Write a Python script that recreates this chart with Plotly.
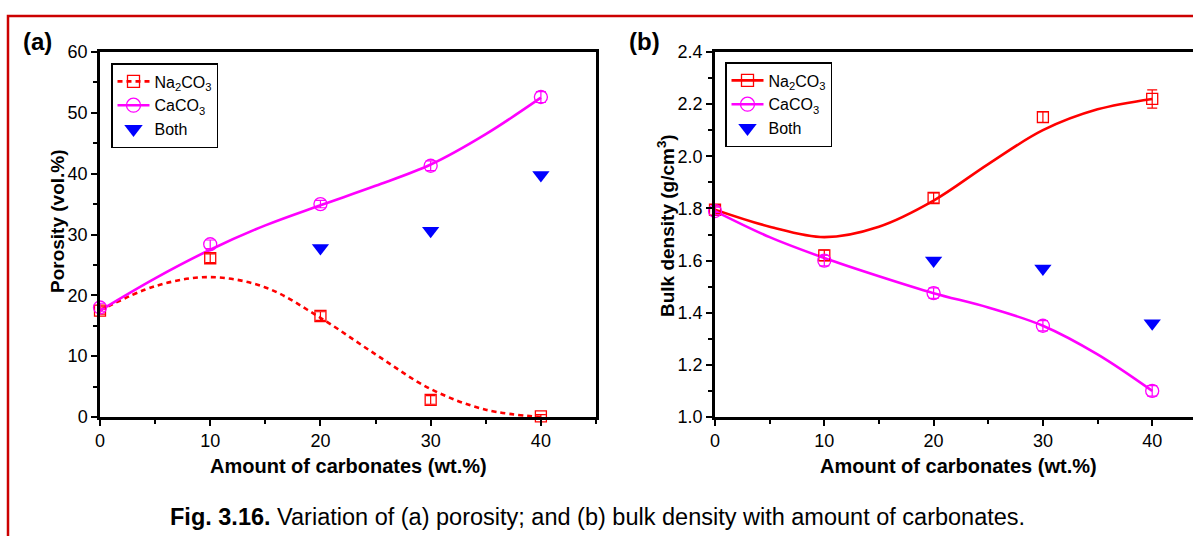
import plotly.graph_objects as go

W, H = 1193, 536

# ---------- data ----------
x_pts = [0, 10, 20, 30, 40]
x_both = [20, 30, 40]
x_fit = [0, 5, 10, 15, 20, 25, 30, 35, 40]

# (a) porosity (vol.%)
por_na = [17.5, 26.1, 16.6, 2.8, 0.1]
por_na_err = [0.6, 0.7, 0.7, 0.7, 0.3]
por_ca = [18.0, 28.4, 35.0, 41.3, 52.6]
por_ca_err = [0.7, 0.7, 0.6, 0.8, 0.9]
por_both = [27.8, 30.6, 39.8]
por_na_fit = [17.5, 21.5, 23.0, 21.3, 16.3, 10.3, 4.6, 1.2, 0.0]
por_ca_fit = [17.5, 22.8, 27.5, 31.5, 34.8, 38.0, 41.5, 46.5, 52.5]

# (b) bulk density (g/cm3)
bd_na = [1.795, 1.62, 1.84, 2.15, 2.22]
bd_na_err = [0.015, 0.02, 0.02, 0.02, 0.035]
bd_ca = [1.79, 1.60, 1.475, 1.35, 1.10]
bd_ca_err = [0.015, 0.02, 0.02, 0.02, 0.02]
bd_both = [1.60, 1.57, 1.36]
bd_na_fit = [1.795, 1.73, 1.69, 1.73, 1.83, 1.97, 2.10, 2.18, 2.22]
bd_ca_fit = [1.79, 1.69, 1.61, 1.54, 1.475, 1.42, 1.35, 1.24, 1.10]

x_ticks = [0, 10, 20, 30, 40]
ya_ticks = [0, 10, 20, 30, 40, 50, 60]
yb_ticks = [1.0, 1.2, 1.4, 1.6, 1.8, 2.0, 2.2, 2.4]

RED, MAG, BLUE = "#FF0000", "#FF00FF", "#0000FF"
FONT = "Arial, Liberation Sans, sans-serif"
NA_DASH_A = "5px,4px"

def px(x):
    return x / W

def py(y):
    return 1 - y / H

fig = go.Figure()

def add_panel(xa, ya, leg, na, na_err, ca, ca_err, both, na_fit, ca_fit, na_dash):
    # fitted curves
    fig.add_trace(go.Scatter(x=x_fit, y=na_fit, mode="lines", line=dict(color=RED, width=2.6, dash=na_dash, shape="spline"),
                             xaxis=xa, yaxis=ya, showlegend=False, hoverinfo="skip"))
    fig.add_trace(go.Scatter(x=x_fit, y=ca_fit, mode="lines", line=dict(color=MAG, width=2.6, shape="spline"),
                             xaxis=xa, yaxis=ya, showlegend=False, hoverinfo="skip"))
    # markers with error bars
    fig.add_trace(go.Scatter(x=x_pts, y=na, mode="markers",
                             marker=dict(symbol="square-open", size=11, color=RED, line=dict(width=1.3)),
                             error_y=dict(type="data", array=na_err, color=RED, thickness=1.2, width=5),
                             xaxis=xa, yaxis=ya, showlegend=False, cliponaxis=False))
    fig.add_trace(go.Scatter(x=x_pts, y=ca, mode="markers",
                             marker=dict(symbol="circle-open", size=13, color=MAG, line=dict(width=1.3)),
                             error_y=dict(type="data", array=ca_err, color=MAG, thickness=1.2, width=5),
                             xaxis=xa, yaxis=ya, showlegend=False, cliponaxis=False))
    fig.add_trace(go.Scatter(x=x_both, y=both, mode="markers",
                             marker=dict(symbol="triangle-down", size=15, color=BLUE),
                             xaxis=xa, yaxis=ya, showlegend=False, cliponaxis=False))
    # legend entries
    fig.add_trace(go.Scatter(x=[None], y=[None], mode="lines+markers", name="Na<sub>2</sub>CO<sub>3</sub>",
                             line=dict(color=RED, width=2.6, dash=na_dash),
                             marker=dict(symbol="square-open", size=12, color=RED, line=dict(width=1.3)),
                             xaxis=xa, yaxis=ya, legend=leg))
    fig.add_trace(go.Scatter(x=[None], y=[None], mode="lines+markers", name="CaCO<sub>3</sub>",
                             line=dict(color=MAG, width=2.6),
                             marker=dict(symbol="circle-open", size=14, color=MAG, line=dict(width=1.3)),
                             xaxis=xa, yaxis=ya, legend=leg))
    fig.add_trace(go.Scatter(x=[None], y=[None], mode="markers", name="Both",
                             marker=dict(symbol="triangle-down", size=16, color=BLUE),
                             xaxis=xa, yaxis=ya, legend=leg))

add_panel("x", "y", "legend", por_na, por_na_err, por_ca, por_ca_err, por_both, por_na_fit, por_ca_fit, NA_DASH_A)
add_panel("x2", "y2", "legend2", bd_na, bd_na_err, bd_ca, bd_ca_err, bd_both, bd_na_fit, bd_ca_fit, "solid")

tickfont = dict(family=FONT, size=18, color="black")

common_x = dict(showline=True, linecolor="black", linewidth=2.5, ticks="outside", ticklen=6, tickwidth=2,
                tickcolor="black", tickvals=x_ticks, tickfont=tickfont, showgrid=False, zeroline=False,
                automargin=False,
                minor=dict(ticks="outside", ticklen=4, tickwidth=2, dtick=5, tickcolor="black"))
common_y = dict(showline=True, linecolor="black", linewidth=2.5, ticks="outside", ticklen=6, tickwidth=2,
                tickcolor="black", tickfont=tickfont, showgrid=False, zeroline=False, automargin=False)

legfont = dict(family=FONT, size=16, color="black")
ya_top, ya_bot = 52, 417
fig.update_layout(
    width=W, height=H, margin=dict(l=0, r=0, t=0, b=0, autoexpand=False),
    paper_bgcolor="white", plot_bgcolor="white",
    xaxis=dict(common_x, domain=[px(100), px(596)], range=[0, 45], anchor="y", mirror=True),
    yaxis=dict(common_y, domain=[py(ya_bot), py(ya_top)], range=[0, 60], anchor="x", mirror=True,
               tickvals=ya_ticks, minor=dict(ticks="outside", ticklen=4, tickwidth=2, dtick=5, tickcolor="black")),
    xaxis2=dict(common_x, domain=[px(715), 1.0], range=[0, (W - 715) / 10.93], anchor="y2", mirror=True),
    yaxis2=dict(common_y, domain=[py(ya_bot), py(ya_top)], range=[1.0, 2.4], anchor="x2", mirror=False,
                tickvals=yb_ticks, tickformat=".1f",
                minor=dict(ticks="outside", ticklen=4, tickwidth=2, dtick=0.1, tickcolor="black")),
    legend=dict(x=px(111), y=py(63), xanchor="left", yanchor="top", bordercolor="black", borderwidth=1.5,
                bgcolor="white", font=legfont, tracegroupgap=0, itemwidth=32),
    legend2=dict(x=px(725), y=py(62), xanchor="left", yanchor="top", bordercolor="black", borderwidth=1.5,
                 bgcolor="white", font=legfont, tracegroupgap=0, itemwidth=32),
    showlegend=True,
)

# outer red frame
fig.add_shape(type="rect", xref="paper", yref="paper", x0=px(8), y0=py(560), x1=px(1220), y1=py(16),
              line=dict(color="#CC0000", width=2.5), fillcolor="rgba(0,0,0,0)", layer="below")

def note(x, y, text, size, angle=0):
    fig.add_annotation(x=px(x), y=py(y), xref="paper", yref="paper", text=text, showarrow=False,
                       xanchor="center", yanchor="middle", textangle=angle,
                       font=dict(family=FONT, size=size, color="black"))

note(37, 41, "<b>(a)</b>", 24)
note(644, 41, "<b>(b)</b>", 24)
note(348, 466, "<b>Amount of carbonates (wt.%)</b>", 20)
note(958, 466, "<b>Amount of carbonates (wt.%)</b>", 20)
note(57, 221, "<b>Porosity (vol.%)</b>", 19, -90)
note(666, 226, "<b>Bulk density (g/cm<sup>3</sup>)</b>", 19, -90)
note(597, 517, "<b>Fig. 3.16.</b> Variation of (a) porosity; and (b) bulk density with amount of carbonates.", 23.5)

fig.write_html("out.html", config={"displayModeBar": False},
               post_script="document.body.style.margin='0';document.body.style.overflow='hidden';")
